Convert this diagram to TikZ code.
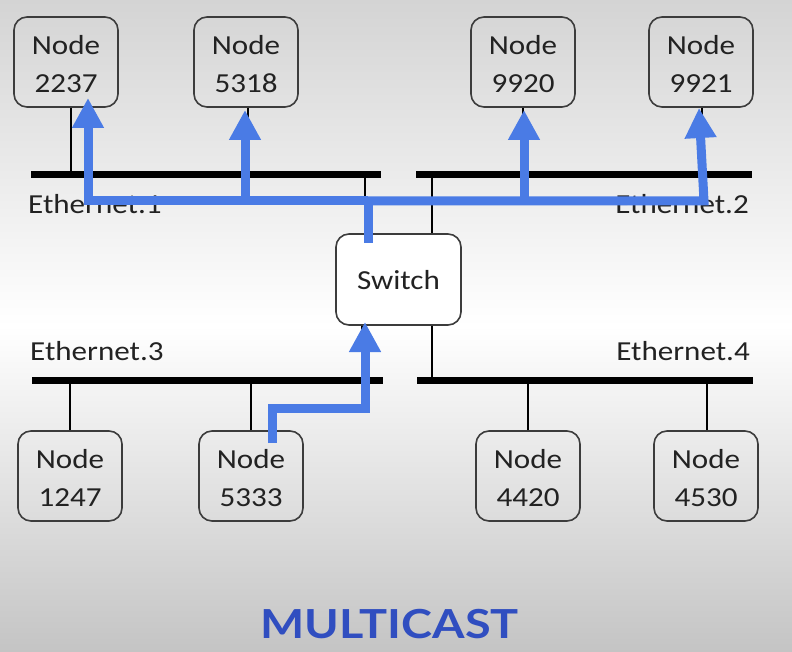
\documentclass[tikz,border=0pt]{standalone}
\usepackage{fontspec}
\setmainfont{Carlito}[FakeStretch=1.13]
\newfontfamily\titlefont{Lato}[FakeStretch=1.17]
\usetikzlibrary{arrows.meta}
\definecolor{bgtop}{RGB}{212,212,212}
\definecolor{bgbot}{RGB}{196,196,196}
\definecolor{mcblue}{RGB}{74,123,229}
\definecolor{titleblue}{RGB}{48,78,192}
\definecolor{boxline}{RGB}{60,60,60}
\definecolor{txt}{RGB}{34,34,34}
\tikzset{
  hostbox/.style={draw=boxline, line width=1.6pt, rounded corners=13pt,
    minimum width=104pt, minimum height=90pt, align=center, text=txt,
    font=\fontsize{27.5}{38}\selectfont, inner sep=0pt, text height=61pt},
  bus/.style={line width=7pt, black},
  tap/.style={line width=2.5pt, black},
  buslabel/.style={font=\fontsize{27.5}{34}\selectfont, text=txt, inner sep=0pt},
  mc/.style={line width=9pt, mcblue, line join=miter},
  mcarrow/.style={mc, -{Triangle[length=30pt,width=30pt]}}
}
\begin{document}
\begin{tikzpicture}[x=1pt,y=-1pt]
\useasboundingbox (0,0) rectangle (792,652);
\shade[top color=bgtop, bottom color=bgbot, middle color=white] (0,0) rectangle (792,652);

% hosts
\node[hostbox] (n2237) at (66,62) {Node\\2237};
\node[hostbox] (n5318) at (246,62) {Node\\5318};
\node[hostbox] (n9920) at (523,62) {Node\\9920};
\node[hostbox] (n9921) at (701,62) {Node\\9921};
\node[hostbox] (n1247) at (70,476) {Node\\1247};
\node[hostbox] (n5333) at (251,476) {Node\\5333};
\node[hostbox] (n4420) at (528,476) {Node\\4420};
\node[hostbox] (n4530) at (706,476) {Node\\4530};
\node[hostbox, fill=white, minimum width=125pt, minimum height=91pt, text height=21pt] (sw) at (398.5,279.5) {Switch};

% buses
\coordinate (e1a) at (31,175);  \coordinate (e1b) at (381,175);
\coordinate (e2a) at (416,175); \coordinate (e2b) at (752,175);
\coordinate (e3a) at (32,380);  \coordinate (e3b) at (383,380);
\coordinate (e4a) at (417,380); \coordinate (e4b) at (753,380);
\draw[bus] (e1a) -- (e1b);
\draw[bus] (e2a) -- (e2b);
\draw[bus] (e3a) -- (e3b);
\draw[bus] (e4a) -- (e4b);

% taps
\draw[tap] ([xshift=5pt]n2237.south) -- ([xshift=5pt]n2237.south |- e1a);
\draw[tap] ([xshift=2pt]n5318.south) -- ([xshift=2pt]n5318.south |- e1a);
\draw[tap] (n9920.south) -- (n9920.south |- e2a);
\draw[tap] ([xshift=1pt]n9921.south) -- ([xshift=1pt]n9921.south |- e2a);
\draw[tap] (n1247.north) -- (n1247.north |- e3a);
\draw[tap] (n5333.north) -- (n5333.north |- e3a);
\draw[tap] (n4420.north) -- (n4420.north |- e4a);
\draw[tap] ([xshift=1pt]n4530.north) -- ([xshift=1pt]n4530.north |- e4a);
\draw[tap] ([xshift=-33.5pt]sw.north) -- ([xshift=-33.5pt]sw.north |- e1a);
\draw[tap] ([xshift=33.5pt]sw.north) -- ([xshift=33.5pt]sw.north |- e2a);
\draw[tap] ([xshift=-36.5pt]sw.south) -- ([xshift=-36.5pt]sw.south |- e3a);
\draw[tap] ([xshift=33.5pt]sw.south) -- ([xshift=33.5pt]sw.south |- e4a);

% bus labels
\node[buslabel, anchor=base west] (l1) at (28,214) {Ethernet.1};
\node[buslabel, anchor=base east] (l2) at (749,214) {Ethernet.2};
\node[buslabel, anchor=base west] (l3) at (30,360) {Ethernet.3};
\node[buslabel, anchor=base east] (l4) at (750,360) {Ethernet.4};

% multicast paths
\coordinate (j0) at (368,243);
\coordinate (j1) at (368,201);
\coordinate (t1) at (88,98);
\coordinate (t2) at (245,110);
\coordinate (t3) at (524,110);
\coordinate (t4) at (699,108);
\draw[mc] (j0) -- (j1);
\draw[mcarrow] (j1) -- (t1 |- j1) -- (t1);
\draw[mcarrow] (j1) -- (704,201) -- (t4);
\draw[mcarrow] (t2 |- j1) -- (t2);
\draw[mcarrow] (t3 |- j1) -- (t3);

\coordinate (s0) at (272,443);
\coordinate (s1) at (272,408);
\coordinate (s2) at (365,408);
\coordinate (s3) at (365,322);
\draw[mcarrow] (s0) -- (s1) -- (s2) -- (s3);

% title
\node[font=\titlefont\bfseries\fontsize{40}{48}\selectfont, text=titleblue, anchor=base, inner sep=0pt] (title) at (389.5,638) {MULTICAST};
\end{tikzpicture}
\end{document}
